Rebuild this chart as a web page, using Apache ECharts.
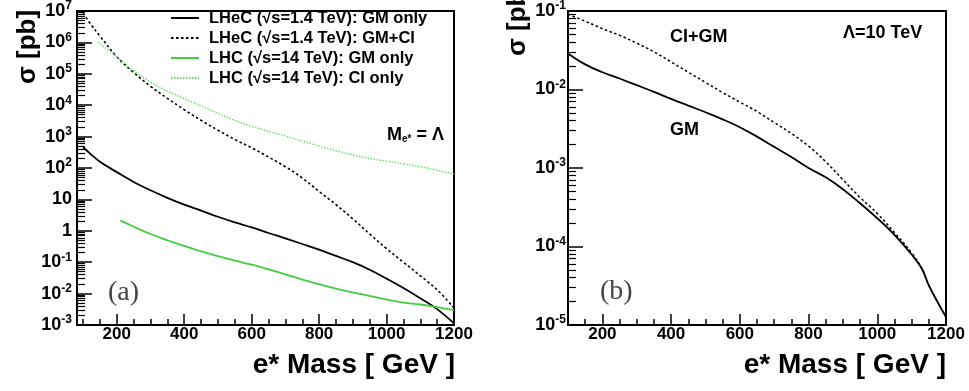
<!DOCTYPE html>
<html>
<head>
<meta charset="utf-8">
<script src="https://cdn.jsdelivr.net/npm/echarts@6/dist/echarts.min.js"></script>
<style>
  html, body { margin: 0; padding: 0; background: #fff; }
  #main { width: 969px; height: 391px; }
</style>
</head>
<body>
<div id="main"></div>
<script>
  // panel (a): sigma [pb] vs e* mass [GeV]
  var lhecGmMass = [100, 125, 150, 200, 250, 300, 350, 400, 450, 500, 550, 600, 650, 700, 750, 800, 850, 900, 950, 1000, 1050, 1100, 1150, 1200]
  var lhecGmXsec = [457, 263, 158, 74, 36, 19.5, 11.2, 6.8, 4.4, 2.8, 1.86, 1.29, 0.85, 0.575, 0.38, 0.25, 0.158, 0.1, 0.0575, 0.030, 0.0151, 0.0071, 0.0032, 0.00112]

  var lhecGmCiMass = [100, 125, 150, 200, 250, 300, 350, 400, 450, 500, 550, 600, 650, 700, 750, 800, 850, 900, 950, 1000, 1050, 1100, 1150, 1200]
  var lhecGmCiXsec = [8.5e6, 3.5e6, 1.6e6, 3.5e5, 1.1e5, 4.0e4, 1.66e4, 7.2e3, 3.3e3, 1.6e3, 810, 440, 224, 110, 48, 17.8, 6.8, 2.4, 0.79, 0.27, 0.1, 0.037, 0.0132, 0.0035]

  var lhcGmMass = [210, 250, 300, 350, 400, 450, 500, 550, 600, 650, 700, 750, 800, 850, 900, 950, 1000, 1050, 1100, 1150, 1200]
  var lhcGmXsec = [2.14, 1.35, 0.79, 0.50, 0.33, 0.22, 0.155, 0.112, 0.083, 0.059, 0.041, 0.028, 0.020, 0.0145, 0.011, 0.0085, 0.0065, 0.0052, 0.0045, 0.0037, 0.0030]

  var lhcCiMass = [144, 150, 200, 250, 300, 350, 400, 450, 500, 550, 600, 650, 700, 750, 800, 850, 900, 950, 1000, 1050, 1100, 1150, 1200]
  var lhcCiXsec = [1.02e6, 9.1e5, 3.5e5, 1.26e5, 5.5e4, 2.8e4, 1.62e4, 9.5e3, 5.5e3, 3.3e3, 2.14e3, 1.48e3, 1.05e3, 720, 500, 355, 263, 200, 166, 135, 110, 85, 63]

  // panel (b): Lambda = 10 TeV
  var bGmMass = [100, 150, 200, 250, 300, 350, 400, 450, 500, 550, 600, 650, 700, 750, 800, 850, 900, 950, 1000, 1050, 1100, 1130, 1150, 1200]
  var bGmXsec = [0.0288, 0.0209, 0.0166, 0.0138, 0.01135, 0.00933, 0.00759, 0.00624, 0.00513, 0.00417, 0.00331, 0.00251, 0.00186, 0.00138, 0.001, 7.6e-4, 5.37e-4, 3.55e-4, 2.29e-4, 1.41e-4, 7.9e-5, 5.2e-5, 3.2e-5, 1.26e-5]

  var bCiGmMass = [100, 150, 200, 250, 300, 350, 400, 450, 500, 550, 600, 650, 700, 750, 800, 850, 900, 950, 1000, 1050, 1100, 1130, 1150, 1200]
  var bCiGmXsec = [0.0912, 0.0741, 0.0596, 0.049, 0.0389, 0.0302, 0.0224, 0.0166, 0.0123, 0.00912, 0.00692, 0.00525, 0.0038, 0.00275, 0.0019, 0.0012, 7.1e-4, 4.2e-4, 2.63e-4, 1.51e-4, 8.3e-5, 5.2e-5, 3.2e-5, 1.26e-5]

  // axis ranges / tick steps
  var massMaxA = 1200, massMinA = 82, massMinB = 100
  var massLabelStep = 200
  var sigmaRangeA = [1e-3, 1e7]
  var sigmaRangeB = [1e-5, 1e-1]

  var FONT = '"Liberation Sans", Arial, Helvetica, sans-serif'

  // axis index layout: x per grid = [major, minor, frame top], y per grid = [log, frame right]
  var X_PER_GRID = 3, Y_PER_GRID = 2

  function pairs(xs, ys) {
    return xs.map(function (x, i) { return [x, ys[i]] })
  }
  function decadeLabel(v) {
    var n = Math.round(Math.log10(v))
    if (n === 0) return '{b|1}'
    if (n === 1) return '{b|10}'
    return '{b|10}{sup|' + n + '}'
  }
  var decadeRich = {
    b: { fontFamily: FONT, fontWeight: 'bold', fontSize: 18, color: '#000' },
    sup: { fontFamily: FONT, fontWeight: 'bold', fontSize: 12, color: '#000', padding: [0, 0, 10, 0] }
  }

  // plain line on the top / right side of a frame
  function frameAxis(grid, pos, otherIdx) {
    return {
      type: 'value', gridIndex: grid, position: pos, min: 1, max: 2,
      axisLine: { show: true, onZeroAxisIndex: otherIdx, lineStyle: { color: '#000', width: 2 } },
      axisTick: { show: false }, axisLabel: { show: false }, splitLine: { show: false }
    }
  }

  function massAxes(grid, min) {
    var yFrame = grid * Y_PER_GRID + 1
    return [
      {
        type: 'value', gridIndex: grid, min: min, max: massMaxA, splitNumber: 5, position: 'bottom',
        axisLine: { show: true, onZeroAxisIndex: yFrame, lineStyle: { color: '#000', width: 2 } },
        axisTick: { show: true, inside: true, length: 11, lineStyle: { color: '#000', width: 1.5 } },
        axisLabel: {
          margin: 1, fontFamily: FONT, fontWeight: 'bold', fontSize: 17, color: '#000',
          formatter: function (v) { return v % massLabelStep === 0 ? String(v) : '' }
        },
        splitLine: { show: false }
      },
      {
        type: 'value', gridIndex: grid, min: min, max: massMaxA, splitNumber: 22, position: 'bottom',
        axisLine: { show: false, onZeroAxisIndex: yFrame },
        axisTick: { show: true, inside: true, length: 6, lineStyle: { color: '#000', width: 1.5 } },
        axisLabel: { show: false },
        splitLine: { show: false }
      },
      frameAxis(grid, 'top', yFrame)
    ]
  }

  function sigmaAxes(grid, range, margin) {
    var xFrame = grid * X_PER_GRID + 2
    return [
      {
        type: 'log', logBase: 10, gridIndex: grid, min: range[0], max: range[1], interval: 1, position: 'left',
        axisLine: { show: true, onZeroAxisIndex: xFrame, lineStyle: { color: '#000', width: 2 } },
        axisTick: { show: true, inside: true, length: 15, lineStyle: { color: '#000', width: 1.5 } },
        minorTick: { show: true, splitNumber: 9, length: 8, lineStyle: { color: '#000', width: 1.2 } },
        axisLabel: { margin: margin, formatter: decadeLabel, rich: decadeRich },
        splitLine: { show: false },
        minorSplitLine: { show: false }
      },
      frameAxis(grid, 'right', xFrame)
    ]
  }

  function curve(name, xs, ys, xi, yi, color, width, type) {
    return {
      name: name, type: 'line', xAxisIndex: xi, yAxisIndex: yi,
      data: pairs(xs, ys), symbol: 'none', smooth: 0.4,
      lineStyle: { color: color, width: width, type: type },
      itemStyle: { color: color }
    }
  }

  function txt(x, y, text, font, extra) {
    var style = { text: text, font: font, fill: '#000', align: 'left', verticalAlign: 'middle' }
    for (var k in extra) style[k] = extra[k]
    return { type: 'text', x: x, y: y, style: style, silent: true }
  }

  var chart = echarts.init(document.getElementById('main'))
  var option = {
    animation: false,
    backgroundColor: '#fff',
    grid: [
      { left: 77, right: 515, top: 7, bottom: 66 },
      { left: 568, right: 23, top: 7, bottom: 66 }
    ],
    xAxis: massAxes(0, massMinA).concat(massAxes(1, massMinB)),
    yAxis: sigmaAxes(0, sigmaRangeA, 5).concat(sigmaAxes(1, sigmaRangeB, 2)),
    legend: {
      orient: 'vertical', left: 165, top: 3, itemWidth: 28, itemHeight: 10, itemGap: 0,
      itemStyle: { opacity: 0 },
      data: ['LHeC (√s=1.4 TeV): GM only', 'LHeC (√s=1.4 TeV): GM+CI', 'LHC (√s=14 TeV): GM only', 'LHC (√s=14 TeV): CI only'],
      textStyle: { fontFamily: FONT, fontWeight: 'bold', fontSize: 16.5, color: '#000', lineHeight: 20, padding: [0, 0, 0, 5] }
    },
    series: [
      curve('LHeC (√s=1.4 TeV): GM only', lhecGmMass, lhecGmXsec, 0, 0, '#000', 1.8, 'solid'),
      curve('LHeC (√s=1.4 TeV): GM+CI', lhecGmCiMass, lhecGmCiXsec, 0, 0, '#000', 1.6, [2.5, 2.5]),
      curve('LHC (√s=14 TeV): GM only', lhcGmMass, lhcGmXsec, 0, 0, '#44cc44', 1.8, 'solid'),
      curve('LHC (√s=14 TeV): CI only', lhcCiMass, lhcCiXsec, 0, 0, '#66d966', 1.4, [1.5, 1.5]),
      curve('GM', bGmMass, bGmXsec, 3, 2, '#000', 1.8, 'solid'),
      curve('CI+GM', bCiGmMass, bCiGmXsec, 3, 2, '#000', 1.5, [2.5, 2.5])
    ],
    graphic: [
      txt(28, 84, 'σ [pb]', 'bold 26px ' + FONT, {}),
      txt(455, 365, 'e* Mass [ GeV ]', 'bold 28px ' + FONT, { align: 'right' }),
      txt(518, 56, 'σ [pb]', 'bold 26px ' + FONT, {}),
      txt(946, 365, 'e* Mass [ GeV ]', 'bold 28px ' + FONT, { align: 'right' }),
      txt(108, 293, '(a)', '28px "Liberation Serif", serif', { fill: '#444' }),
      txt(600, 292, '(b)', '28px "Liberation Serif", serif', { fill: '#444' }),
      {
        type: 'text', x: 387, y: 135, silent: true,
        style: {
          text: '{b|M}{s|e*}{b| = Λ}', align: 'left', verticalAlign: 'middle',
          rich: {
            b: { fontFamily: FONT, fontWeight: 'bold', fontSize: 18, fill: '#000' },
            s: { fontFamily: FONT, fontWeight: 'bold', fontSize: 10, fill: '#000', padding: [8, 0, 0, 0] }
          }
        }
      },
      txt(670, 37, 'CI+GM', 'bold 18px ' + FONT, {}),
      txt(670, 130, 'GM', 'bold 18px ' + FONT, {}),
      txt(843, 33, 'Λ=10 TeV', 'bold 18px ' + FONT, {})
    ]
  }
  // rotate the y titles
  option.graphic[0].rotation = Math.PI / 2
  option.graphic[2].rotation = Math.PI / 2
  chart.setOption(option)
</script>
</body>
</html>
